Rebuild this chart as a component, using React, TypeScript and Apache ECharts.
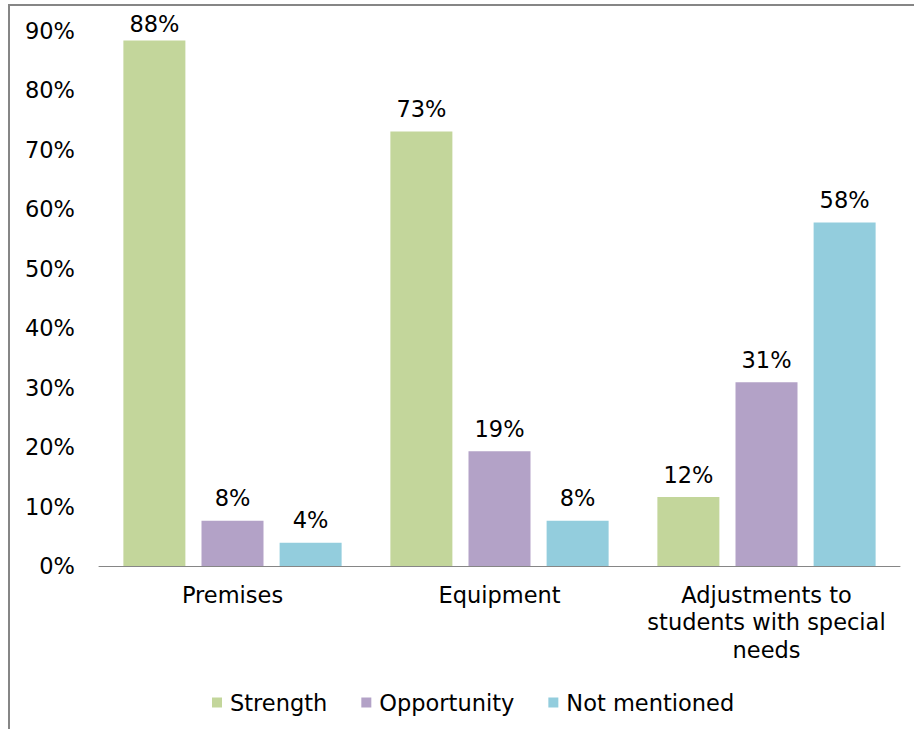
import React, { useEffect, useRef } from "react";
import * as echarts from "echarts";

const categories = ["Premises", "Equipment", "Adjustments to\nstudents with special\nneeds"];
const seriesNames = ["Strength", "Opportunity", "Not mentioned"];
const strength = [88.4, 73.1, 11.6];
const opportunity = [7.6, 19.3, 30.9];
const notMentioned = [3.9, 7.6, 57.8];
const colors = ["#C3D69B", "#B3A2C7", "#93CDDD"];
const yTicks = { min: 0, max: 90, interval: 10 };

const FONT = '"DejaVu Sans", Verdana, sans-serif';
const FS = 22.5;

export default function App() {
  const ref = useRef<HTMLDivElement>(null);
  useEffect(() => {
    if (!ref.current) return;
    const chart = echarts.init(ref.current, null, { renderer: "svg" });
    const values = [strength, opportunity, notMentioned];
    chart.setOption({
      animation: false,
      backgroundColor: "#ffffff",
      textStyle: { fontFamily: FONT, color: "#000" },
      graphic: [
        {
          type: "rect",
          shape: { x: 9, y: 5, width: 1000, height: 1000 },
          style: { fill: "none", stroke: "#868686", lineWidth: 2 },
          silent: true,
        },
      ],
      grid: { left: 99, right: 14, top: 31, bottom: 163 },
      legend: {
        data: seriesNames,
        left: 207,
        top: 686,
        itemWidth: 10,
        itemHeight: 10,
        itemGap: 34,
        icon: "rect",
        textStyle: { fontFamily: FONT, fontSize: FS, color: "#000", padding: [0, 0, 0, 3] },
      },
      xAxis: {
        type: "category",
        data: categories,
        axisLine: { show: true, lineStyle: { color: "#868686", width: 1 } },
        axisTick: { show: false },
        axisLabel: {
          fontFamily: FONT,
          fontSize: FS,
          color: "#000",
          lineHeight: 27.5,
          margin: 15,
          align: "center",
          interval: 0,
        },
      },
      yAxis: {
        type: "value",
        min: yTicks.min,
        max: yTicks.max,
        interval: yTicks.interval,
        axisLine: { show: false },
        axisTick: { show: false },
        splitLine: { show: false },
        axisLabel: {
          fontFamily: FONT,
          fontSize: FS,
          color: "#000",
          margin: 24,
          formatter: "{value}%",
        },
      },
      series: seriesNames.map((name, i) => ({
        name,
        type: "bar",
        // labels near the top edge are kept inside the chart, as in the reference
        data: values[i].map((v) =>
          v > 85 ? { value: v, label: { distance: 5 } } : v
        ),
        barWidth: 62,
        barGap: "26%",
        itemStyle: { color: colors[i] },
        label: {
          show: true,
          position: "top",
          distance: 11,
          formatter: (p: any) => Math.round(p.value) + "%",
          fontFamily: FONT,
          fontSize: FS,
          color: "#000",
        },
      })),
    });
    return () => chart.dispose();
  }, []);
  return (
    <div
      ref={ref}
      style={{ position: "absolute", left: 0, top: 0, width: 914, height: 729 }}
    />
  );
}
